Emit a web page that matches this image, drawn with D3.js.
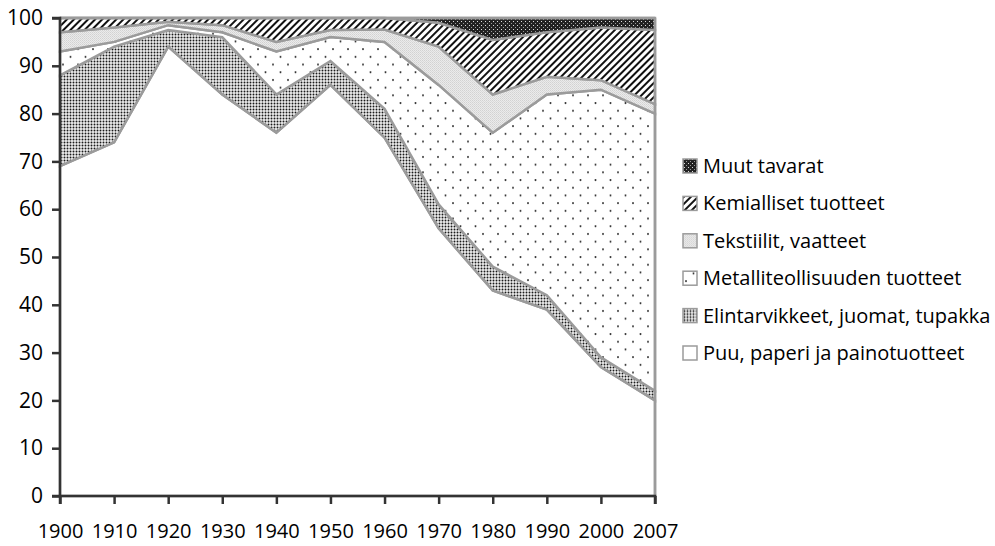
<!DOCTYPE html>
<html lang="fi">
<meta charset="utf-8">
<style>
  body { margin: 0; background: #fff; }
  svg text { font-family: "Open Sans", sans-serif; fill: #000; }
  .area { stroke: #9b9b9b; stroke-width: 2.5px; stroke-linejoin: miter; }
</style>
<script src="https://d3js.org/d3.v7.min.js"></script>
<body>
<div id="chart"></div>
<script>
// categories and series (percent shares)
const years = ["1900", "1910", "1920", "1930", "1940", "1950", "1960", "1970", "1980", "1990", "2000", "2007"]
const puu   = [69, 74, 94, 84, 76, 86, 75, 56, 43, 39, 27, 20]
const elin  = [19, 20, 3.5, 12, 8, 5, 6, 5, 5, 3, 2, 2]
const metal = [5, 1, 1, 1, 9, 5, 14, 25, 28, 42, 56, 58]
const teks  = [4, 3, 0.7, 1.5, 2, 1.5, 2.6, 8, 8, 3.7, 2, 2]
const kemi  = [3, 2, 0.8, 1.5, 5, 2.5, 2.4, 5, 11.4, 9.3, 11, 15.5]
const muut  = [0, 0, 0, 0, 0, 0, 0, 1, 4.6, 3, 2, 2.5]
const yTicks = [0, 10, 20, 30, 40, 50, 60, 70, 80, 90, 100]

const keys = ["puu", "elin", "metal", "teks", "kemi", "muut"]
const labels = {
  puu: "Puu, paperi ja painotuotteet",
  elin: "Elintarvikkeet, juomat, tupakka",
  metal: "Metalliteollisuuden tuotteet",
  teks: "Tekstiilit, vaatteet",
  kemi: "Kemialliset tuotteet",
  muut: "Muut tavarat"
}
const series = { puu, elin, metal, teks, kemi, muut }
const table = years.map((year, i) => {
  const row = { year }
  keys.forEach(k => row[k] = series[k][i])
  return row
})

const W = 995, H = 546
const LEFT = 60, RIGHT = 655, TOP = 18, BOTTOM = 496

const svg = d3.select("#chart").append("svg")
  .attr("width", W)
  .attr("height", H)

// fill patterns
const defs = svg.append("defs")

const pElin = defs.append("pattern").attr("id", "p-elin")
  .attr("patternUnits", "userSpaceOnUse").attr("width", 3).attr("height", 3)
pElin.append("rect").attr("width", 3).attr("height", 3).attr("fill", "#eeeeee")
pElin.append("circle").attr("cx", 1.5).attr("cy", 1.5).attr("r", 0.95).attr("fill", "#1a1a1a")

const pMetal = defs.append("pattern").attr("id", "p-metal")
  .attr("patternUnits", "userSpaceOnUse").attr("width", 15).attr("height", 15.4)
pMetal.append("rect").attr("width", 15).attr("height", 15.4).attr("fill", "#fff")
pMetal.append("circle").attr("cx", 3).attr("cy", 3).attr("r", 1).attr("fill", "#333")
pMetal.append("circle").attr("cx", 10.5).attr("cy", 10.7).attr("r", 1).attr("fill", "#333")

const pTeks = defs.append("pattern").attr("id", "p-teks")
  .attr("patternUnits", "userSpaceOnUse").attr("width", 2).attr("height", 2)
pTeks.append("rect").attr("width", 2).attr("height", 2).attr("fill", "#ebebeb")
pTeks.append("rect").attr("width", 1).attr("height", 1).attr("fill", "#d2d2d2")
pTeks.append("rect").attr("x", 1).attr("y", 1).attr("width", 1).attr("height", 1).attr("fill", "#dadada")

const pKemi = defs.append("pattern").attr("id", "p-kemi")
  .attr("patternUnits", "userSpaceOnUse").attr("width", 5).attr("height", 5)
  .attr("patternTransform", "rotate(45)")
pKemi.append("rect").attr("width", 5).attr("height", 5).attr("fill", "#fff")
pKemi.append("rect").attr("width", 2).attr("height", 5).attr("fill", "#111")

const pMuut = defs.append("pattern").attr("id", "p-muut")
  .attr("patternUnits", "userSpaceOnUse").attr("width", 4).attr("height", 4)
pMuut.append("rect").attr("width", 4).attr("height", 4).attr("fill", "#222")
pMuut.append("rect").attr("x", 1).attr("y", 1).attr("width", 1).attr("height", 1).attr("fill", "#ddd")
pMuut.append("rect").attr("x", 3).attr("y", 3).attr("width", 1).attr("height", 1).attr("fill", "#999")

const fills = {
  puu: "#fff",
  elin: "url(#p-elin)",
  metal: "url(#p-metal)",
  teks: "url(#p-teks)",
  kemi: "url(#p-kemi)",
  muut: "url(#p-muut)"
}

// scales
const x = d3.scalePoint().domain(years).range([LEFT, RIGHT])
const y = d3.scaleLinear().domain([0, 100]).range([BOTTOM, TOP])

const stacked = d3.stack().keys(keys)(table)

const area = d3.area()
  .x(d => x(d.data.year))
  .y0(d => y(d[0]))
  .y1(d => y(d[1]))

svg.append("g").selectAll("path")
  .data(stacked)
  .join("path")
  .attr("class", "area")
  .attr("fill", d => fills[d.key])
  .attr("d", area)

// plot frame (top and right in grey)
svg.append("line").attr("x1", LEFT).attr("x2", RIGHT).attr("y1", TOP).attr("y2", TOP)
  .attr("stroke", "#9b9b9b").attr("stroke-width", 2.5)
svg.append("line").attr("x1", RIGHT).attr("x2", RIGHT).attr("y1", TOP).attr("y2", BOTTOM)
  .attr("stroke", "#9b9b9b").attr("stroke-width", 2.5)

// axes
const yAxis = svg.append("g")
  .attr("transform", `translate(${LEFT},0)`)
  .call(d3.axisLeft(y).tickValues(yTicks).tickSize(8).tickPadding(9).tickFormat(d3.format("d")))
const xAxis = svg.append("g")
  .attr("transform", `translate(0,${BOTTOM})`)
  .call(d3.axisBottom(x).tickSize(8).tickPadding(20))

;[yAxis, xAxis].forEach(a => {
  a.select(".domain").attr("stroke", "#333").attr("stroke-width", 2.5)
  a.selectAll(".tick line").attr("stroke", "#333").attr("stroke-width", 2.5)
  a.selectAll(".tick text").style("font-size", "20px").attr("fill", "#000")
})
yAxis.selectAll(".tick text").style("font-size", "21px")
yAxis.select(".domain").attr("d", `M-8,${BOTTOM}H0V${TOP}H-8`)
xAxis.select(".domain").attr("d", `M${LEFT},8V0H${RIGHT}V8`)

// legend
const legend = svg.append("g")
  .attr("transform", "translate(683,166)")
const items = legend.selectAll("g")
  .data(keys.slice().reverse())
  .join("g")
  .attr("transform", (d, i) => `translate(0,${i * 37.4})`)
items.append("rect")
  .attr("x", 0).attr("y", -7).attr("width", 14).attr("height", 14)
  .attr("fill", d => fills[d])
  .attr("stroke", "#9b9b9b").attr("stroke-width", 1.5)
items.append("text")
  .attr("x", 20).attr("dy", "0.35em")
  .style("font-size", "20px")
  .text(d => labels[d])
</script>
</body>
</html>
